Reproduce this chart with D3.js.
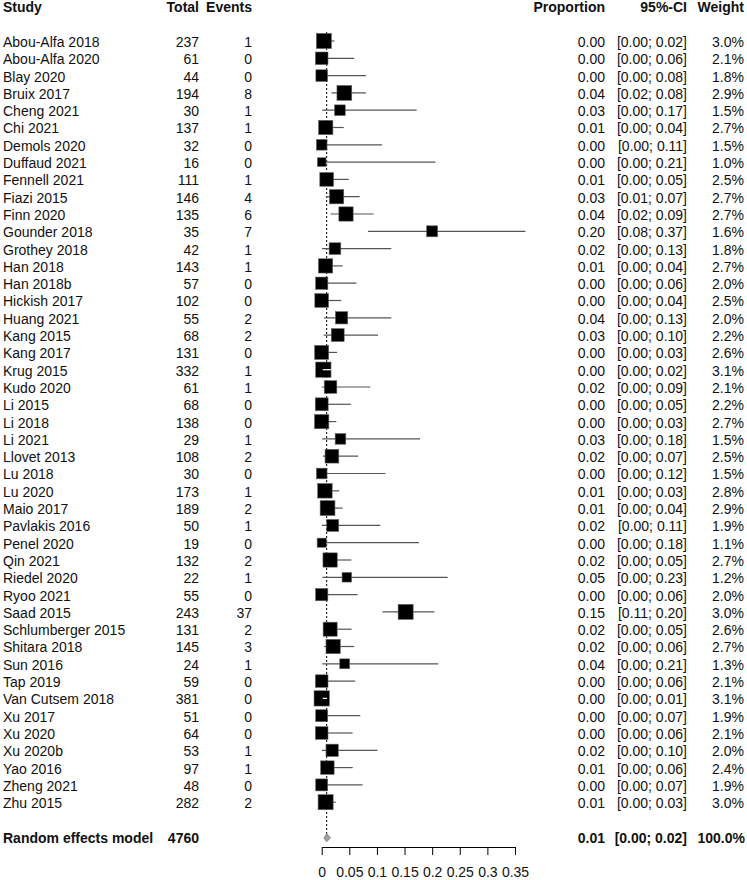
<!DOCTYPE html>
<html>
<head>
<meta charset="utf-8">
<script src="https://cdn.jsdelivr.net/npm/d3@7"></script>
<style>
  body { margin: 0; background: #fff; }
  text { font-family: "Liberation Sans", Arial, sans-serif; font-size: 14px; fill: #111; }
  .bold { font-weight: bold; }
</style>
</head>
<body>
<div id="chart"></div>
<script>
var studies = ['Abou-Alfa 2018','Abou-Alfa 2020','Blay 2020','Bruix 2017','Cheng 2021','Chi 2021','Demols 2020',
  'Duffaud 2021','Fennell 2021','Fiazi 2015','Finn 2020','Gounder 2018','Grothey 2018','Han 2018','Han 2018b',
  'Hickish 2017','Huang 2021','Kang 2015','Kang 2017','Krug 2015','Kudo 2020','Li 2015','Li 2018','Li 2021',
  'Llovet 2013','Lu 2018','Lu 2020','Maio 2017','Pavlakis 2016','Penel 2020','Qin 2021','Riedel 2020','Ryoo 2021',
  'Saad 2015','Schlumberger 2015','Shitara 2018','Sun 2016','Tap 2019','Van Cutsem 2018','Xu 2017','Xu 2020',
  'Xu 2020b','Yao 2016','Zheng 2021','Zhu 2015'];
var totals = [237,61,44,194,30,137,32,16,111,146,135,35,42,143,57,102,55,68,131,332,61,68,138,29,108,30,173,189,
  50,19,132,22,55,243,131,145,24,59,381,51,64,53,97,48,282];
var events = [1,0,0,8,1,1,0,0,1,4,6,7,1,1,0,0,2,2,0,1,1,0,0,1,2,0,1,2,1,0,2,1,0,37,2,3,1,0,0,0,0,1,1,0,2];
var proportion = [0.004,0,0,0.041,0.033,0.0073,0,0,0.009,0.027,0.044,0.2,0.024,0.007,0,0,0.036,0.029,0,0.003,
  0.016,0,0,0.034,0.0185,0,0.0058,0.0106,0.02,0,0.0152,0.0455,0,0.152,0.0153,0.0207,0.0417,0,0,0,0,0.0189,0.0103,0,0.0071];
var ciLower = [0.0001,0,0,0.018,0.001,0.0002,0,0,0.0002,0.0075,0.016,0.084,0.0006,0.0002,0,0,0.0044,0.0036,0,0.0001,
  0.0004,0,0,0.0009,0.0022,0,0.0001,0.0013,0.0005,0,0.0018,0.0012,0,0.11,0.0019,0.0043,0.0011,0,0,0,0,0.0005,0.0003,0,0.0009];
var ciUpper = [0.023,0.059,0.08,0.08,0.172,0.04,0.109,0.206,0.049,0.0687,0.094,0.369,0.126,0.038,0.0627,0.0355,0.126,
  0.102,0.0278,0.0167,0.088,0.0528,0.0264,0.178,0.066,0.1157,0.0318,0.0377,0.106,0.176,0.0537,0.228,0.0649,0.204,
  0.054,0.059,0.211,0.0606,0.0096,0.0698,0.056,0.1007,0.0561,0.074,0.0254];
var weights = [3.0,2.1,1.8,2.9,1.5,2.7,1.5,1.0,2.5,2.7,2.7,1.6,1.8,2.7,2.0,2.5,2.0,2.2,2.6,3.1,2.1,2.2,2.7,1.5,2.5,
  1.5,2.8,2.9,1.9,1.1,2.7,1.2,2.0,3.0,2.6,2.7,1.3,2.1,3.1,1.9,2.1,2.0,2.4,1.9,3.0];
var pooled = { label: 'Random effects model', total: 4760, est: 0.009, lower: 0.004, upper: 0.016, weight: 100.0 };
var xTicks = [0, 0.05, 0.1, 0.15, 0.2, 0.25, 0.3, 0.35];

var W = 747, H = 880;
var svg = d3.select('#chart').append('svg').attr('width', W).attr('height', H);

var x = d3.scaleLinear().domain([0, 0.35]).range([321.7, 515]);
// row 0 = header, studies start at row 2, summary two rows after the last study
var y = d3.scaleLinear().domain([0, 1]).range([7.4, 24.7]);
var sumRow = studies.length + 3;
var side = d3.scaleSqrt().domain([0, d3.max(weights)]).range([0, 15.3]);

var fmt2 = function(v) { return v.toFixed(2); };
var ciText = function(l, u) { return '[' + fmt2(l) + '; ' + fmt2(u) + ']'; };

// header
var head = svg.append('g').attr('class', 'bold');
[['Study', 3, 'start'], ['Total', 199, 'end'], ['Events', 252, 'end'],
 ['Proportion', 605, 'end'], ['95%-CI', 687, 'end'], ['Weight', 744, 'end']].forEach(function(h) {
  head.append('text').attr('x', h[1]).attr('y', y(0)).attr('dy', '0.35em')
    .attr('text-anchor', h[2]).attr('class', 'bold').text(h[0]);
});

// reference line at pooled estimate
svg.append('line')
  .attr('x1', x(pooled.est)).attr('x2', x(pooled.est))
  .attr('y1', 32).attr('y2', y(sumRow) - 4)
  .attr('stroke', '#000').attr('stroke-dasharray', '2,2');

var rows = svg.selectAll('.row').data(studies).enter().append('g')
  .attr('class', 'row')
  .attr('transform', function(d, i) { return 'translate(0,' + y(i + 2) + ')'; });

rows.append('text').attr('x', 3).attr('dy', '0.35em').text(function(d) { return d; });
rows.append('text').attr('x', 199).attr('dy', '0.35em').attr('text-anchor', 'end')
  .text(function(d, i) { return totals[i]; });
rows.append('text').attr('x', 252).attr('dy', '0.35em').attr('text-anchor', 'end')
  .text(function(d, i) { return events[i]; });
rows.append('text').attr('x', 605).attr('dy', '0.35em').attr('text-anchor', 'end')
  .text(function(d, i) { return fmt2(proportion[i]); });
rows.append('text').attr('x', 687).attr('dy', '0.35em').attr('text-anchor', 'end')
  .text(function(d, i) { return ciText(ciLower[i], ciUpper[i]); });
rows.append('text').attr('x', 744).attr('dy', '0.35em').attr('text-anchor', 'end')
  .text(function(d, i) { return weights[i].toFixed(1) + '%'; });

// CI lines then squares
rows.append('line')
  .attr('x1', function(d, i) { return x(ciLower[i]); })
  .attr('x2', function(d, i) { return x(ciUpper[i]); })
  .attr('y1', -1).attr('y2', -1)
  .attr('stroke', '#555').attr('stroke-width', 1.2);

rows.append('rect')
  .attr('x', function(d, i) { return x(proportion[i]) - side(weights[i]) / 2; })
  .attr('y', function(d, i) { return -1 - side(weights[i]) / 2; })
  .attr('width', function(d, i) { return side(weights[i]); })
  .attr('height', function(d, i) { return side(weights[i]); })
  .attr('fill', '#000').attr('stroke', '#666').attr('stroke-width', 0.6);

// CI completely inside its square is drawn in white
rows.filter(function(d, i) {
    var s = side(weights[i]) / 2, c = x(proportion[i]);
    return x(ciLower[i]) >= c - s && x(ciUpper[i]) <= c + s;
  })
  .append('line')
  .attr('x1', function(d) { var i = studies.indexOf(d); return x(ciLower[i]) + 1; })
  .attr('x2', function(d) { var i = studies.indexOf(d); return x(ciUpper[i]); })
  .attr('y1', -1).attr('y2', -1)
  .attr('stroke', '#fff').attr('stroke-width', 1.2);

// summary row
var sum = svg.append('g').attr('transform', 'translate(0,' + y(sumRow) + ')');
sum.append('text').attr('x', 3).attr('dy', '0.35em').attr('class', 'bold').text(pooled.label);
sum.append('text').attr('x', 199).attr('dy', '0.35em').attr('text-anchor', 'end').attr('class', 'bold').text(pooled.total);
sum.append('text').attr('x', 605).attr('dy', '0.35em').attr('text-anchor', 'end').attr('class', 'bold').text(fmt2(pooled.est));
sum.append('text').attr('x', 687).attr('dy', '0.35em').attr('text-anchor', 'end').attr('class', 'bold').text(ciText(pooled.lower, pooled.upper));
sum.append('text').attr('x', 745).attr('dy', '0.35em').attr('text-anchor', 'end').attr('class', 'bold').text(pooled.weight.toFixed(1) + '%');
sum.append('path')
  .attr('d', 'M' + x(pooled.lower) + ',0L' + x(pooled.est) + ',-4L' + x(pooled.upper) + ',0L' + x(pooled.est) + ',4Z')
  .attr('fill', '#a0a0a0').attr('stroke', '#777').attr('stroke-width', 0.8);

// axis
var axis = d3.axisBottom(x).tickValues(xTicks).tickSize(8).tickSizeOuter(0).tickPadding(12)
  .tickFormat(function(d) { return String(+d.toFixed(2)); });
var ax = svg.append('g').attr('transform', 'translate(0,847)').call(axis);
ax.selectAll('text').attr('font-family', null).attr('font-size', null).style('fill', '#111');
ax.selectAll('line, path').attr('stroke', '#000');
</script>
</body>
</html>
